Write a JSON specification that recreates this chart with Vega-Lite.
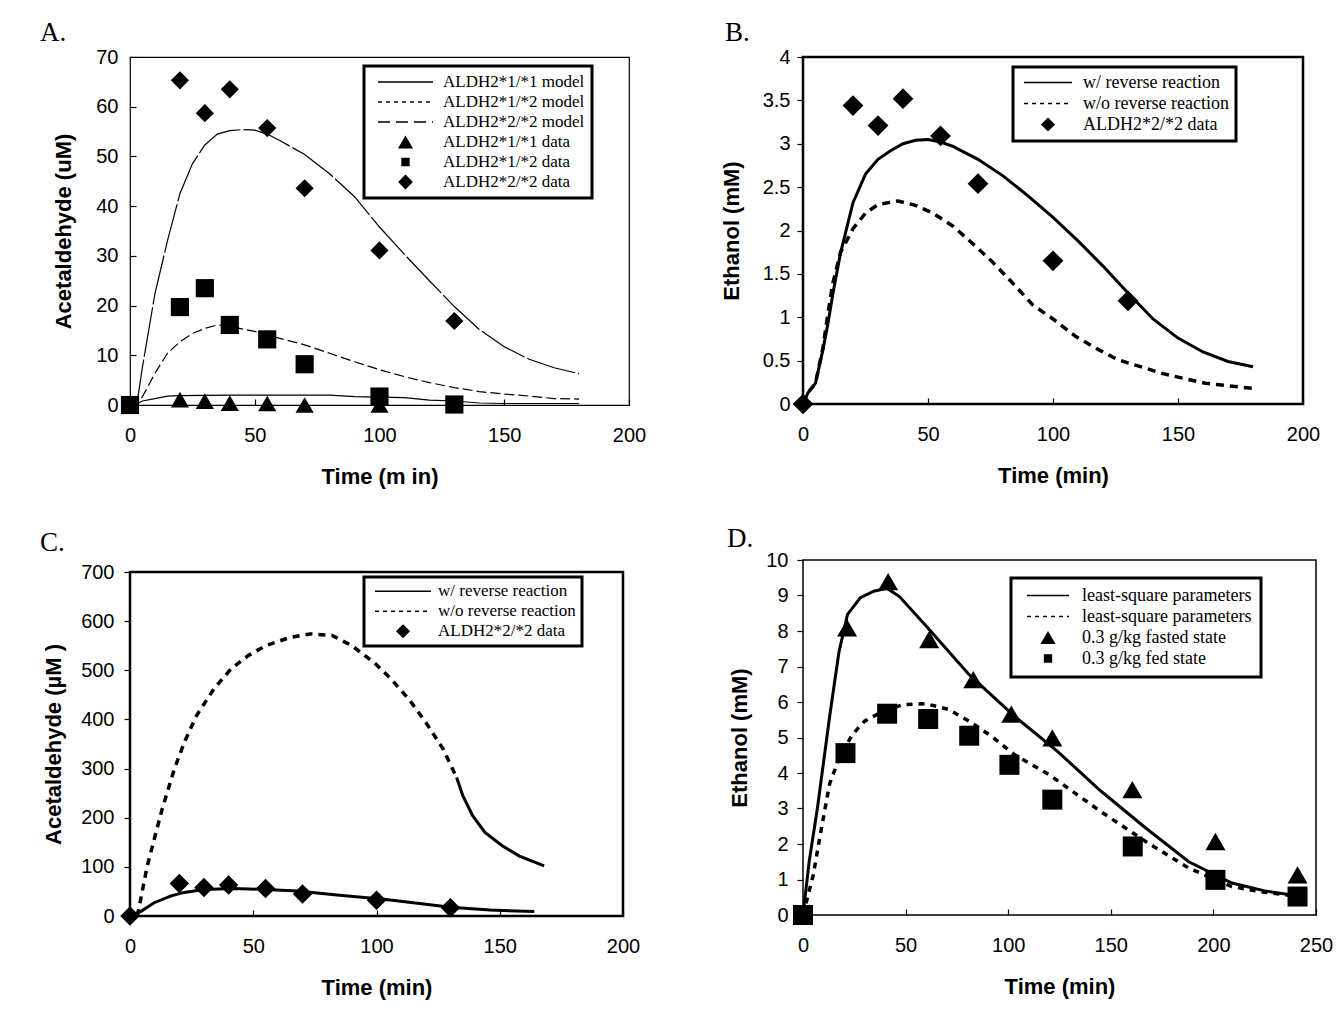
{
  "$schema": "https://vega.github.io/schema/vega-lite/v6.json",
  "background": "white",
  "padding": {"left": 38, "top": 17, "right": 5, "bottom": 5},
  "config": {
    "font": "Liberation Sans",
    "axis": {"grid": false, "domain": false, "ticks": true, "tickColor": "black", "tickWidth": 1.2, "labelFont": "Liberation Sans", "labelFontSize": 20, "labelColor": "black", "labelFlush": false, "labelOverlap": false, "titleFont": "Liberation Sans", "titleFontSize": 22, "titleFontWeight": "bold", "titleColor": "black"},
    "title": {"font": "Liberation Serif", "fontSize": 27, "fontWeight": "normal", "color": "black", "anchor": "start", "frame": "group"},
    "legend": {"labelFont": "Liberation Serif", "labelFontSize": 17, "labelColor": "black", "labelBaseline": "middle", "labelLimit": 400, "fillColor": "white", "strokeColor": "black", "strokeWidth": 3, "orient": "none", "rowPadding": 2, "symbolOpacity": 1}
  },
  "resolve": {"scale": {"shape": "independent", "size": "independent", "strokeDash": "independent", "strokeWidth": "independent", "stroke": "independent", "x": "independent", "y": "independent"}, "legend": {"shape": "independent", "size": "independent", "strokeDash": "independent", "strokeWidth": "independent", "stroke": "independent"}},
  "spacing": 71,
  "hconcat": [
    {
      "spacing": 39,
      "resolve": {"scale": {"shape": "independent", "size": "independent", "strokeDash": "independent", "strokeWidth": "independent", "stroke": "independent", "x": "independent", "y": "independent"}, "legend": {"shape": "independent", "size": "independent", "strokeDash": "independent", "strokeWidth": "independent", "stroke": "independent"}},
      "vconcat": [
        {
          "width": 499, "height": 348,
          "title": {"text": "A.", "dx": -90, "offset": 0},
          "view": {"stroke": "black", "strokeWidth": 1.2},
          "encoding": {
            "x": {"field": "time", "type": "quantitative", "scale": {"domain": [0, 200]}, "axis": {"title": "Time (m in)", "values": [0, 50, 100, 150, 200], "format": "d", "tickSize": -6, "labelPadding": 26, "titleY": 61}},
            "y": {"field": "conc", "type": "quantitative", "scale": {"domain": [0, 70]}, "axis": {"title": "Acetaldehyde (uM)", "values": [0, 10, 20, 30, 40, 50, 60, 70], "format": "d", "tickSize": -6, "labelPadding": 18, "titleX": -55}}
          },
          "layer": [
            {"data": {"name": "A_data"}, "mark": {"type": "point", "filled": true, "color": "black", "opacity": 0},
             "encoding": {
               "shape": {"field": "series", "type": "nominal", "scale": {"domain": ["ALDH2*1/*1 model", "ALDH2*1/*2 model", "ALDH2*2/*2 model", "ALDH2*1/*1 data", "ALDH2*1/*2 data", "ALDH2*2/*2 data"], "range": ["stroke", "stroke", "stroke", "triangle-up", "square", "diamond"]},
                 "legend": {"title": null, "legendX": 234, "legendY": 9, "padding": 7, "clipHeight": 18, "symbolOffset": 6, "labelOffset": 9, "symbolOpacity": 1}},
               "size": {"field": "series", "type": "nominal", "scale": {"type": "ordinal", "domain": ["ALDH2*1/*1 model", "ALDH2*1/*2 model", "ALDH2*2/*2 model", "ALDH2*1/*1 data", "ALDH2*1/*2 data", "ALDH2*2/*2 data"], "range": [3025, 3025, 3025, 230, 70, 220]},
                 "legend": {"title": null, "legendX": 234, "legendY": 9, "padding": 7, "clipHeight": 18, "symbolOffset": 6, "labelOffset": 9, "symbolOpacity": 1}},
               "strokeDash": {"field": "series", "type": "nominal", "scale": {"domain": ["ALDH2*1/*1 model", "ALDH2*1/*2 model", "ALDH2*2/*2 model", "ALDH2*1/*1 data", "ALDH2*1/*2 data", "ALDH2*2/*2 data"], "range": [[1, 0], [4, 4], [12, 6], [1, 0], [1, 0], [1, 0]]},
                 "legend": {"title": null, "legendX": 234, "legendY": 9, "padding": 7, "clipHeight": 18, "symbolOffset": 6, "labelOffset": 9, "symbolOpacity": 1}},
               "strokeWidth": {"field": "series", "type": "nominal", "scale": {"type": "ordinal", "domain": ["ALDH2*1/*1 model", "ALDH2*1/*2 model", "ALDH2*2/*2 model", "ALDH2*1/*1 data", "ALDH2*1/*2 data", "ALDH2*2/*2 data"], "range": [1.5, 1.5, 1.5, 0, 0, 0]},
                 "legend": {"title": null, "legendX": 234, "legendY": 9, "padding": 7, "clipHeight": 18, "symbolOffset": 6, "labelOffset": 9, "symbolOpacity": 1}},
               "stroke": {"field": "series", "type": "nominal", "scale": {"domain": ["ALDH2*1/*1 model", "ALDH2*1/*2 model", "ALDH2*2/*2 model", "ALDH2*1/*1 data", "ALDH2*1/*2 data", "ALDH2*2/*2 data"], "range": ["black", "black", "black", "black", "black", "black"]},
                 "legend": {"title": null, "legendX": 234, "legendY": 9, "padding": 7, "clipHeight": 18, "symbolOffset": 6, "labelOffset": 9, "symbolOpacity": 1}}
             }},
            {"data": {"name": "A_model"}, "transform": [{"filter": "datum.series == 'ALDH2*1/*1 model'"}], "mark": {"type": "line", "color": "black", "strokeWidth": 1.2}},
            {"data": {"name": "A_model"}, "transform": [{"filter": "datum.series == 'ALDH2*1/*2 model'"}], "mark": {"type": "line", "color": "black", "strokeWidth": 1.2, "strokeDash": [10, 4]}},
            {"data": {"name": "A_model"}, "transform": [{"filter": "datum.series == 'ALDH2*2/*2 model'"}], "mark": {"type": "line", "color": "black", "strokeWidth": 1.2, "strokeDash": [50, 3]}},
            {"data": {"name": "A_data"}, "mark": {"type": "point", "filled": true, "color": "black", "opacity": 1, "size": 330},
             "encoding": {"shape": {"field": "series", "type": "nominal", "scale": {"domain": ["ALDH2*1/*1 model", "ALDH2*1/*2 model", "ALDH2*2/*2 model", "ALDH2*1/*1 data", "ALDH2*1/*2 data", "ALDH2*2/*2 data"], "range": ["stroke", "stroke", "stroke", "triangle-up", "square", "diamond"]}}}}
          ]
        },
        {
          "width": 493, "height": 344,
          "title": {"text": "C.", "dx": -90, "offset": 5},
          "view": {"stroke": "black", "strokeWidth": 2.5},
          "encoding": {
            "x": {"field": "time", "type": "quantitative", "scale": {"domain": [0, 200]}, "axis": {"title": "Time (min)", "values": [0, 50, 100, 150, 200], "format": "d", "tickSize": -6, "labelPadding": 26, "titleY": 61}},
            "y": {"field": "conc", "type": "quantitative", "scale": {"domain": [0, 700]}, "axis": {"title": "Acetaldehyde (µM )", "values": [0, 100, 200, 300, 400, 500, 600, 700], "format": "d", "tickSize": 6, "labelPadding": 10, "titleX": -65}}
          },
          "layer": [
            {"data": {"name": "C_data"}, "mark": {"type": "point", "filled": true, "color": "black", "opacity": 0},
             "encoding": {
               "shape": {"field": "series", "type": "nominal", "scale": {"domain": ["w/ reverse reaction", "w/o reverse reaction", "ALDH2*2/*2 data"], "range": ["stroke", "stroke", "diamond"]},
                 "legend": {"title": null, "legendX": 234, "legendY": 5, "padding": 6, "clipHeight": 16.5, "symbolOffset": 4, "labelOffset": 6, "symbolOpacity": 1}},
               "size": {"field": "series", "type": "nominal", "scale": {"type": "ordinal", "domain": ["w/ reverse reaction", "w/o reverse reaction", "ALDH2*2/*2 data"], "range": [3136, 3136, 200]},
                 "legend": {"title": null, "legendX": 234, "legendY": 5, "padding": 6, "clipHeight": 16.5, "symbolOffset": 4, "labelOffset": 6, "symbolOpacity": 1}},
               "strokeDash": {"field": "series", "type": "nominal", "scale": {"domain": ["w/ reverse reaction", "w/o reverse reaction", "ALDH2*2/*2 data"], "range": [[1, 0], [4, 4], [1, 0]]},
                 "legend": {"title": null, "legendX": 234, "legendY": 5, "padding": 6, "clipHeight": 16.5, "symbolOffset": 4, "labelOffset": 6, "symbolOpacity": 1}},
               "strokeWidth": {"field": "series", "type": "nominal", "scale": {"type": "ordinal", "domain": ["w/ reverse reaction", "w/o reverse reaction", "ALDH2*2/*2 data"], "range": [1.5, 1.5, 0]},
                 "legend": {"title": null, "legendX": 234, "legendY": 5, "padding": 6, "clipHeight": 16.5, "symbolOffset": 4, "labelOffset": 6, "symbolOpacity": 1}},
               "stroke": {"field": "series", "type": "nominal", "scale": {"domain": ["w/ reverse reaction", "w/o reverse reaction", "ALDH2*2/*2 data"], "range": ["black", "black", "black"]},
                 "legend": {"title": null, "legendX": 234, "legendY": 5, "padding": 6, "clipHeight": 16.5, "symbolOffset": 4, "labelOffset": 6, "symbolOpacity": 1}}
             }},
            {"data": {"name": "C_model"}, "transform": [{"filter": "datum.series == 'w/ reverse reaction'"}], "mark": {"type": "line", "color": "black", "strokeWidth": 3}},
            {"data": {"name": "C_model"}, "transform": [{"filter": "datum.series == 'w/o reverse reaction' && datum.time <= 133"}], "mark": {"type": "line", "color": "black", "strokeWidth": 3.5, "strokeDash": [7, 6]}},
            {"data": {"name": "C_model"}, "transform": [{"filter": "datum.series == 'w/o reverse reaction' && datum.time >= 132"}], "mark": {"type": "line", "color": "black", "strokeWidth": 3}},
            {"data": {"name": "C_data"}, "mark": {"type": "point", "filled": true, "color": "black", "opacity": 1, "size": 380},
             "encoding": {"shape": {"field": "series", "type": "nominal", "scale": {"domain": ["w/ reverse reaction", "w/o reverse reaction", "ALDH2*2/*2 data"], "range": ["stroke", "stroke", "diamond"]}}}}
          ]
        }
      ]
    },
    {
      "spacing": 36,
      "resolve": {"scale": {"shape": "independent", "size": "independent", "strokeDash": "independent", "strokeWidth": "independent", "stroke": "independent", "x": "independent", "y": "independent"}, "legend": {"shape": "independent", "size": "independent", "strokeDash": "independent", "strokeWidth": "independent", "stroke": "independent"}},
      "vconcat": [
        {
          "width": 500, "height": 347,
          "title": {"text": "B.", "dx": -78, "offset": 0},
          "view": {"stroke": "black", "strokeWidth": 2.5},
          "encoding": {
            "x": {"field": "time", "type": "quantitative", "scale": {"domain": [0, 200]}, "axis": {"title": "Time (min)", "values": [0, 50, 100, 150, 200], "format": "d", "tickSize": -6, "labelPadding": 26, "titleY": 61}},
            "y": {"field": "conc", "type": "quantitative", "scale": {"domain": [0, 4]}, "axis": {"title": "Ethanol (mM)", "values": [0, 0.5, 1, 1.5, 2, 2.5, 3, 3.5, 4], "format": "~g", "tickSize": 6, "labelPadding": 7, "titleX": -60}}
          },
          "layer": [
            {"data": {"name": "B_data"}, "mark": {"type": "point", "filled": true, "color": "black", "opacity": 0},
             "encoding": {
               "shape": {"field": "series", "type": "nominal", "scale": {"domain": ["w/ reverse reaction", "w/o reverse reaction", "ALDH2*2/*2 data"], "range": ["stroke", "stroke", "diamond"]},
                 "legend": {"title": null, "legendX": 210, "legendY": 10, "padding": 7, "clipHeight": 17, "symbolOffset": 3, "labelOffset": 10, "labelFontSize": 18, "symbolOpacity": 1}},
               "size": {"field": "series", "type": "nominal", "scale": {"type": "ordinal", "domain": ["w/ reverse reaction", "w/o reverse reaction", "ALDH2*2/*2 data"], "range": [2304, 2304, 200]},
                 "legend": {"title": null, "legendX": 210, "legendY": 10, "padding": 7, "clipHeight": 17, "symbolOffset": 3, "labelOffset": 10, "labelFontSize": 18, "symbolOpacity": 1}},
               "strokeDash": {"field": "series", "type": "nominal", "scale": {"domain": ["w/ reverse reaction", "w/o reverse reaction", "ALDH2*2/*2 data"], "range": [[1, 0], [4, 4], [1, 0]]},
                 "legend": {"title": null, "legendX": 210, "legendY": 10, "padding": 7, "clipHeight": 17, "symbolOffset": 3, "labelOffset": 10, "labelFontSize": 18, "symbolOpacity": 1}},
               "strokeWidth": {"field": "series", "type": "nominal", "scale": {"type": "ordinal", "domain": ["w/ reverse reaction", "w/o reverse reaction", "ALDH2*2/*2 data"], "range": [1.5, 1.5, 0]},
                 "legend": {"title": null, "legendX": 210, "legendY": 10, "padding": 7, "clipHeight": 17, "symbolOffset": 3, "labelOffset": 10, "labelFontSize": 18, "symbolOpacity": 1}},
               "stroke": {"field": "series", "type": "nominal", "scale": {"domain": ["w/ reverse reaction", "w/o reverse reaction", "ALDH2*2/*2 data"], "range": ["black", "black", "black"]},
                 "legend": {"title": null, "legendX": 210, "legendY": 10, "padding": 7, "clipHeight": 17, "symbolOffset": 3, "labelOffset": 10, "labelFontSize": 18, "symbolOpacity": 1}}
             }},
            {"data": {"name": "B_model"}, "transform": [{"filter": "datum.series == 'w/ reverse reaction'"}], "mark": {"type": "line", "color": "black", "strokeWidth": 3}},
            {"data": {"name": "B_model"}, "transform": [{"filter": "datum.series == 'w/o reverse reaction'"}], "mark": {"type": "line", "color": "black", "strokeWidth": 3.5, "strokeDash": [8, 6]}},
            {"data": {"name": "B_data"}, "mark": {"type": "point", "filled": true, "color": "black", "opacity": 1, "size": 430},
             "encoding": {"shape": {"field": "series", "type": "nominal", "scale": {"domain": ["w/ reverse reaction", "w/o reverse reaction", "ALDH2*2/*2 data"], "range": ["stroke", "stroke", "diamond"]}}}}
          ]
        },
        {
          "width": 513, "height": 355,
          "title": {"text": "D.", "dx": -76, "offset": -3},
          "view": {"stroke": "black", "strokeWidth": 1.5},
          "encoding": {
            "x": {"field": "time", "type": "quantitative", "scale": {"domain": [0, 250]}, "axis": {"title": "Time (min)", "values": [0, 50, 100, 150, 200, 250], "format": "d", "tickSize": -6, "labelPadding": 26, "titleY": 61}},
            "y": {"field": "conc", "type": "quantitative", "scale": {"domain": [0, 10]}, "axis": {"title": "Ethanol (mM)", "values": [0, 1, 2, 3, 4, 5, 6, 7, 8, 9, 10], "format": "d", "tickSize": 6, "labelPadding": 9, "titleX": -52}}
          },
          "layer": [
            {"data": {"name": "D_data"}, "mark": {"type": "point", "filled": true, "color": "black", "opacity": 0},
             "encoding": {
               "shape": {"field": "series", "type": "nominal", "scale": {"domain": ["fasted model", "fed model", "0.3 g/kg fasted state", "0.3 g/kg fed state"], "range": ["stroke", "stroke", "triangle-up", "square"]},
                 "legend": {"title": null, "legendX": 208, "legendY": 18, "padding": 9, "clipHeight": 17, "symbolOffset": 6, "labelOffset": 12, "labelFontSize": 18, "labelLimit": 400, "symbolOpacity": 1, "labelExpr": "indexof(datum.value, 'model') >= 0 ? 'least-square parameters' : datum.value"}},
               "size": {"field": "series", "type": "nominal", "scale": {"type": "ordinal", "domain": ["fasted model", "fed model", "0.3 g/kg fasted state", "0.3 g/kg fed state"], "range": [1764, 1764, 230, 70]},
                 "legend": {"title": null, "legendX": 208, "legendY": 18, "padding": 9, "clipHeight": 17, "symbolOffset": 6, "labelOffset": 12, "labelFontSize": 18, "labelLimit": 400, "symbolOpacity": 1, "labelExpr": "indexof(datum.value, 'model') >= 0 ? 'least-square parameters' : datum.value"}},
               "strokeDash": {"field": "series", "type": "nominal", "scale": {"domain": ["fasted model", "fed model", "0.3 g/kg fasted state", "0.3 g/kg fed state"], "range": [[1, 0], [4, 4], [1, 0], [1, 0]]},
                 "legend": {"title": null, "legendX": 208, "legendY": 18, "padding": 9, "clipHeight": 17, "symbolOffset": 6, "labelOffset": 12, "labelFontSize": 18, "labelLimit": 400, "symbolOpacity": 1, "labelExpr": "indexof(datum.value, 'model') >= 0 ? 'least-square parameters' : datum.value"}},
               "strokeWidth": {"field": "series", "type": "nominal", "scale": {"type": "ordinal", "domain": ["fasted model", "fed model", "0.3 g/kg fasted state", "0.3 g/kg fed state"], "range": [1.5, 1.5, 0, 0]},
                 "legend": {"title": null, "legendX": 208, "legendY": 18, "padding": 9, "clipHeight": 17, "symbolOffset": 6, "labelOffset": 12, "labelFontSize": 18, "labelLimit": 400, "symbolOpacity": 1, "labelExpr": "indexof(datum.value, 'model') >= 0 ? 'least-square parameters' : datum.value"}},
               "stroke": {"field": "series", "type": "nominal", "scale": {"domain": ["fasted model", "fed model", "0.3 g/kg fasted state", "0.3 g/kg fed state"], "range": ["black", "black", "black", "black"]},
                 "legend": {"title": null, "legendX": 208, "legendY": 18, "padding": 9, "clipHeight": 17, "symbolOffset": 6, "labelOffset": 12, "labelFontSize": 18, "labelLimit": 400, "symbolOpacity": 1, "labelExpr": "indexof(datum.value, 'model') >= 0 ? 'least-square parameters' : datum.value"}}
             }},
            {"data": {"name": "D_model"}, "transform": [{"filter": "datum.series == 'fasted model'"}], "mark": {"type": "line", "color": "black", "strokeWidth": 3}},
            {"data": {"name": "D_model"}, "transform": [{"filter": "datum.series == 'fed model'"}], "mark": {"type": "line", "color": "black", "strokeWidth": 3.5, "strokeDash": [6, 6]}},
            {"data": {"name": "D_data"}, "mark": {"type": "point", "filled": true, "color": "black", "opacity": 1, "size": 400},
             "encoding": {"shape": {"field": "series", "type": "nominal", "scale": {"domain": ["fasted model", "fed model", "0.3 g/kg fasted state", "0.3 g/kg fed state"], "range": ["stroke", "stroke", "triangle-up", "square"]}}}}
          ]
        }
      ]
    }
  ],
  "datasets": {
    "A_model": [
      {"series": "ALDH2*2/*2 model", "time": 0, "conc": 0}, {"series": "ALDH2*2/*2 model", "time": 3, "conc": 1}, {"series": "ALDH2*2/*2 model", "time": 5, "conc": 7.7}, {"series": "ALDH2*2/*2 model", "time": 10, "conc": 22.4}, {"series": "ALDH2*2/*2 model", "time": 15, "conc": 33}, {"series": "ALDH2*2/*2 model", "time": 20, "conc": 42.5}, {"series": "ALDH2*2/*2 model", "time": 25, "conc": 48.5}, {"series": "ALDH2*2/*2 model", "time": 30, "conc": 52.3}, {"series": "ALDH2*2/*2 model", "time": 35, "conc": 54.5}, {"series": "ALDH2*2/*2 model", "time": 40, "conc": 55.2}, {"series": "ALDH2*2/*2 model", "time": 45, "conc": 55.4}, {"series": "ALDH2*2/*2 model", "time": 50, "conc": 55.3}, {"series": "ALDH2*2/*2 model", "time": 55, "conc": 54.5}, {"series": "ALDH2*2/*2 model", "time": 60, "conc": 53.2}, {"series": "ALDH2*2/*2 model", "time": 70, "conc": 50.4}, {"series": "ALDH2*2/*2 model", "time": 80, "conc": 46.5}, {"series": "ALDH2*2/*2 model", "time": 90, "conc": 41.9}, {"series": "ALDH2*2/*2 model", "time": 100, "conc": 35.8}, {"series": "ALDH2*2/*2 model", "time": 110, "conc": 30.3}, {"series": "ALDH2*2/*2 model", "time": 120, "conc": 25}, {"series": "ALDH2*2/*2 model", "time": 130, "conc": 19.8}, {"series": "ALDH2*2/*2 model", "time": 140, "conc": 15.2}, {"series": "ALDH2*2/*2 model", "time": 150, "conc": 11.7}, {"series": "ALDH2*2/*2 model", "time": 160, "conc": 9.2}, {"series": "ALDH2*2/*2 model", "time": 170, "conc": 7.5}, {"series": "ALDH2*2/*2 model", "time": 180, "conc": 6.3},
      {"series": "ALDH2*1/*2 model", "time": 0, "conc": 0}, {"series": "ALDH2*1/*2 model", "time": 3, "conc": 0.5}, {"series": "ALDH2*1/*2 model", "time": 5, "conc": 1.7}, {"series": "ALDH2*1/*2 model", "time": 10, "conc": 6.4}, {"series": "ALDH2*1/*2 model", "time": 15, "conc": 10.4}, {"series": "ALDH2*1/*2 model", "time": 20, "conc": 12.7}, {"series": "ALDH2*1/*2 model", "time": 25, "conc": 14.4}, {"series": "ALDH2*1/*2 model", "time": 30, "conc": 15.4}, {"series": "ALDH2*1/*2 model", "time": 35, "conc": 16.1}, {"series": "ALDH2*1/*2 model", "time": 40, "conc": 15.8}, {"series": "ALDH2*1/*2 model", "time": 50, "conc": 14.8}, {"series": "ALDH2*1/*2 model", "time": 60, "conc": 13.4}, {"series": "ALDH2*1/*2 model", "time": 70, "conc": 12.1}, {"series": "ALDH2*1/*2 model", "time": 80, "conc": 10.4}, {"series": "ALDH2*1/*2 model", "time": 90, "conc": 8.7}, {"series": "ALDH2*1/*2 model", "time": 100, "conc": 7.1}, {"series": "ALDH2*1/*2 model", "time": 110, "conc": 5.7}, {"series": "ALDH2*1/*2 model", "time": 120, "conc": 4.5}, {"series": "ALDH2*1/*2 model", "time": 130, "conc": 3.5}, {"series": "ALDH2*1/*2 model", "time": 140, "conc": 2.7}, {"series": "ALDH2*1/*2 model", "time": 150, "conc": 2.2}, {"series": "ALDH2*1/*2 model", "time": 160, "conc": 1.8}, {"series": "ALDH2*1/*2 model", "time": 170, "conc": 1.3}, {"series": "ALDH2*1/*2 model", "time": 180, "conc": 1.2},
      {"series": "ALDH2*1/*1 model", "time": 0, "conc": 0}, {"series": "ALDH2*1/*1 model", "time": 3, "conc": 0.3}, {"series": "ALDH2*1/*1 model", "time": 5, "conc": 0.8}, {"series": "ALDH2*1/*1 model", "time": 10, "conc": 1.3}, {"series": "ALDH2*1/*1 model", "time": 15, "conc": 1.8}, {"series": "ALDH2*1/*1 model", "time": 20, "conc": 1.9}, {"series": "ALDH2*1/*1 model", "time": 40, "conc": 2.0}, {"series": "ALDH2*1/*1 model", "time": 60, "conc": 2.0}, {"series": "ALDH2*1/*1 model", "time": 80, "conc": 2.0}, {"series": "ALDH2*1/*1 model", "time": 90, "conc": 1.7}, {"series": "ALDH2*1/*1 model", "time": 100, "conc": 1.6}, {"series": "ALDH2*1/*1 model", "time": 110, "conc": 1.5}, {"series": "ALDH2*1/*1 model", "time": 120, "conc": 1.0}, {"series": "ALDH2*1/*1 model", "time": 130, "conc": 0.8}, {"series": "ALDH2*1/*1 model", "time": 140, "conc": 0.4}, {"series": "ALDH2*1/*1 model", "time": 150, "conc": 0.3}, {"series": "ALDH2*1/*1 model", "time": 180, "conc": 0.3}
    ],
    "A_data": [
      {"series": "ALDH2*1/*1 data", "time": 20, "conc": 1.1}, {"series": "ALDH2*1/*1 data", "time": 30, "conc": 0.8}, {"series": "ALDH2*1/*1 data", "time": 40, "conc": 0.4}, {"series": "ALDH2*1/*1 data", "time": 55, "conc": 0.3}, {"series": "ALDH2*1/*1 data", "time": 70, "conc": 0}, {"series": "ALDH2*1/*1 data", "time": 100, "conc": 0},
      {"series": "ALDH2*1/*2 data", "time": 0, "conc": 0}, {"series": "ALDH2*1/*2 data", "time": 20, "conc": 19.7}, {"series": "ALDH2*1/*2 data", "time": 30, "conc": 23.5}, {"series": "ALDH2*1/*2 data", "time": 40, "conc": 16.1}, {"series": "ALDH2*1/*2 data", "time": 55, "conc": 13.2}, {"series": "ALDH2*1/*2 data", "time": 70, "conc": 8.2}, {"series": "ALDH2*1/*2 data", "time": 100, "conc": 1.7}, {"series": "ALDH2*1/*2 data", "time": 130, "conc": 0.1},
      {"series": "ALDH2*2/*2 data", "time": 20, "conc": 65.3}, {"series": "ALDH2*2/*2 data", "time": 30, "conc": 58.7}, {"series": "ALDH2*2/*2 data", "time": 40, "conc": 63.5}, {"series": "ALDH2*2/*2 data", "time": 55, "conc": 55.7}, {"series": "ALDH2*2/*2 data", "time": 70, "conc": 43.6}, {"series": "ALDH2*2/*2 data", "time": 100, "conc": 31.1}, {"series": "ALDH2*2/*2 data", "time": 130, "conc": 16.9}
    ],
    "B_model": [
      {"series": "w/ reverse reaction", "time": 0, "conc": 0}, {"series": "w/ reverse reaction", "time": 2, "conc": 0.13}, {"series": "w/ reverse reaction", "time": 5, "conc": 0.24}, {"series": "w/ reverse reaction", "time": 8, "conc": 0.63}, {"series": "w/ reverse reaction", "time": 10, "conc": 0.93}, {"series": "w/ reverse reaction", "time": 12, "conc": 1.28}, {"series": "w/ reverse reaction", "time": 15, "conc": 1.74}, {"series": "w/ reverse reaction", "time": 20, "conc": 2.32}, {"series": "w/ reverse reaction", "time": 25, "conc": 2.65}, {"series": "w/ reverse reaction", "time": 30, "conc": 2.82}, {"series": "w/ reverse reaction", "time": 35, "conc": 2.92}, {"series": "w/ reverse reaction", "time": 40, "conc": 3.0}, {"series": "w/ reverse reaction", "time": 45, "conc": 3.04}, {"series": "w/ reverse reaction", "time": 50, "conc": 3.05}, {"series": "w/ reverse reaction", "time": 55, "conc": 3.02}, {"series": "w/ reverse reaction", "time": 60, "conc": 2.97}, {"series": "w/ reverse reaction", "time": 70, "conc": 2.82}, {"series": "w/ reverse reaction", "time": 80, "conc": 2.63}, {"series": "w/ reverse reaction", "time": 90, "conc": 2.4}, {"series": "w/ reverse reaction", "time": 100, "conc": 2.15}, {"series": "w/ reverse reaction", "time": 110, "conc": 1.88}, {"series": "w/ reverse reaction", "time": 120, "conc": 1.59}, {"series": "w/ reverse reaction", "time": 130, "conc": 1.28}, {"series": "w/ reverse reaction", "time": 140, "conc": 0.98}, {"series": "w/ reverse reaction", "time": 150, "conc": 0.76}, {"series": "w/ reverse reaction", "time": 160, "conc": 0.6}, {"series": "w/ reverse reaction", "time": 170, "conc": 0.49}, {"series": "w/ reverse reaction", "time": 180, "conc": 0.43},
      {"series": "w/o reverse reaction", "time": 0, "conc": 0}, {"series": "w/o reverse reaction", "time": 2, "conc": 0.13}, {"series": "w/o reverse reaction", "time": 5, "conc": 0.24}, {"series": "w/o reverse reaction", "time": 8, "conc": 0.65}, {"series": "w/o reverse reaction", "time": 10, "conc": 1.05}, {"series": "w/o reverse reaction", "time": 12, "conc": 1.4}, {"series": "w/o reverse reaction", "time": 15, "conc": 1.75}, {"series": "w/o reverse reaction", "time": 20, "conc": 2.02}, {"series": "w/o reverse reaction", "time": 25, "conc": 2.2}, {"series": "w/o reverse reaction", "time": 30, "conc": 2.3}, {"series": "w/o reverse reaction", "time": 38, "conc": 2.34}, {"series": "w/o reverse reaction", "time": 45, "conc": 2.29}, {"series": "w/o reverse reaction", "time": 52, "conc": 2.2}, {"series": "w/o reverse reaction", "time": 60, "conc": 2.05}, {"series": "w/o reverse reaction", "time": 69, "conc": 1.82}, {"series": "w/o reverse reaction", "time": 76, "conc": 1.63}, {"series": "w/o reverse reaction", "time": 83, "conc": 1.42}, {"series": "w/o reverse reaction", "time": 92, "conc": 1.14}, {"series": "w/o reverse reaction", "time": 100, "conc": 0.98}, {"series": "w/o reverse reaction", "time": 109, "conc": 0.78}, {"series": "w/o reverse reaction", "time": 118, "conc": 0.63}, {"series": "w/o reverse reaction", "time": 126, "conc": 0.51}, {"series": "w/o reverse reaction", "time": 135, "conc": 0.43}, {"series": "w/o reverse reaction", "time": 144, "conc": 0.35}, {"series": "w/o reverse reaction", "time": 153, "conc": 0.29}, {"series": "w/o reverse reaction", "time": 161, "conc": 0.24}, {"series": "w/o reverse reaction", "time": 170, "conc": 0.21}, {"series": "w/o reverse reaction", "time": 180, "conc": 0.18}
    ],
    "B_data": [
      {"series": "ALDH2*2/*2 data", "time": 0, "conc": 0}, {"series": "ALDH2*2/*2 data", "time": 20, "conc": 3.44}, {"series": "ALDH2*2/*2 data", "time": 30, "conc": 3.21}, {"series": "ALDH2*2/*2 data", "time": 40, "conc": 3.52}, {"series": "ALDH2*2/*2 data", "time": 55, "conc": 3.09}, {"series": "ALDH2*2/*2 data", "time": 70, "conc": 2.54}, {"series": "ALDH2*2/*2 data", "time": 100, "conc": 1.65}, {"series": "ALDH2*2/*2 data", "time": 130, "conc": 1.19}
    ],
    "C_model": [
      {"series": "w/ reverse reaction", "time": 0, "conc": 0}, {"series": "w/ reverse reaction", "time": 4.6, "conc": 10}, {"series": "w/ reverse reaction", "time": 9.8, "conc": 27}, {"series": "w/ reverse reaction", "time": 16.7, "conc": 41}, {"series": "w/ reverse reaction", "time": 22, "conc": 48}, {"series": "w/ reverse reaction", "time": 30, "conc": 54}, {"series": "w/ reverse reaction", "time": 42, "conc": 56}, {"series": "w/ reverse reaction", "time": 55, "conc": 54}, {"series": "w/ reverse reaction", "time": 68, "conc": 51}, {"series": "w/ reverse reaction", "time": 85, "conc": 42}, {"series": "w/ reverse reaction", "time": 103, "conc": 34}, {"series": "w/ reverse reaction", "time": 120, "conc": 24}, {"series": "w/ reverse reaction", "time": 130, "conc": 18}, {"series": "w/ reverse reaction", "time": 146, "conc": 12}, {"series": "w/ reverse reaction", "time": 164, "conc": 9},
      {"series": "w/o reverse reaction", "time": 3, "conc": 0}, {"series": "w/o reverse reaction", "time": 7, "conc": 102}, {"series": "w/o reverse reaction", "time": 13, "conc": 217}, {"series": "w/o reverse reaction", "time": 18, "conc": 299}, {"series": "w/o reverse reaction", "time": 22, "conc": 353}, {"series": "w/o reverse reaction", "time": 27, "conc": 408}, {"series": "w/o reverse reaction", "time": 34, "conc": 462}, {"series": "w/o reverse reaction", "time": 41, "conc": 503}, {"series": "w/o reverse reaction", "time": 48, "conc": 530}, {"series": "w/o reverse reaction", "time": 55, "conc": 550}, {"series": "w/o reverse reaction", "time": 65, "conc": 567}, {"series": "w/o reverse reaction", "time": 73, "conc": 574}, {"series": "w/o reverse reaction", "time": 82, "conc": 571}, {"series": "w/o reverse reaction", "time": 90, "conc": 550}, {"series": "w/o reverse reaction", "time": 99, "conc": 516}, {"series": "w/o reverse reaction", "time": 106, "conc": 482}, {"series": "w/o reverse reaction", "time": 113, "conc": 442}, {"series": "w/o reverse reaction", "time": 120, "conc": 394}, {"series": "w/o reverse reaction", "time": 127, "conc": 340}, {"series": "w/o reverse reaction", "time": 132.5, "conc": 282}, {"series": "w/o reverse reaction", "time": 135, "conc": 245}, {"series": "w/o reverse reaction", "time": 139, "conc": 204}, {"series": "w/o reverse reaction", "time": 144, "conc": 170}, {"series": "w/o reverse reaction", "time": 151, "conc": 143}, {"series": "w/o reverse reaction", "time": 158, "conc": 122}, {"series": "w/o reverse reaction", "time": 168, "conc": 102}
    ],
    "C_data": [
      {"series": "ALDH2*2/*2 data", "time": 0, "conc": 0}, {"series": "ALDH2*2/*2 data", "time": 20, "conc": 66}, {"series": "ALDH2*2/*2 data", "time": 30, "conc": 58}, {"series": "ALDH2*2/*2 data", "time": 40, "conc": 63}, {"series": "ALDH2*2/*2 data", "time": 55, "conc": 56}, {"series": "ALDH2*2/*2 data", "time": 70, "conc": 45}, {"series": "ALDH2*2/*2 data", "time": 100, "conc": 32}, {"series": "ALDH2*2/*2 data", "time": 130, "conc": 17}
    ],
    "D_model": [
      {"series": "fasted model", "time": 0, "conc": 0}, {"series": "fasted model", "time": 3, "conc": 1.5}, {"series": "fasted model", "time": 7, "conc": 3.0}, {"series": "fasted model", "time": 13, "conc": 5.6}, {"series": "fasted model", "time": 17.5, "conc": 7.4}, {"series": "fasted model", "time": 21.7, "conc": 8.47}, {"series": "fasted model", "time": 28, "conc": 8.94}, {"series": "fasted model", "time": 34.5, "conc": 9.12}, {"series": "fasted model", "time": 41, "conc": 9.2}, {"series": "fasted model", "time": 47, "conc": 8.97}, {"series": "fasted model", "time": 60, "conc": 8.14}, {"series": "fasted model", "time": 81, "conc": 6.77}, {"series": "fasted model", "time": 103, "conc": 5.6}, {"series": "fasted model", "time": 124, "conc": 4.61}, {"series": "fasted model", "time": 145, "conc": 3.5}, {"series": "fasted model", "time": 167, "conc": 2.45}, {"series": "fasted model", "time": 188, "conc": 1.5}, {"series": "fasted model", "time": 209, "conc": 0.9}, {"series": "fasted model", "time": 225, "conc": 0.68}, {"series": "fasted model", "time": 240, "conc": 0.55},
      {"series": "fed model", "time": 0, "conc": 0}, {"series": "fed model", "time": 5, "conc": 1.13}, {"series": "fed model", "time": 9, "conc": 2.45}, {"series": "fed model", "time": 13, "conc": 3.7}, {"series": "fed model", "time": 17.5, "conc": 4.4}, {"series": "fed model", "time": 24, "conc": 5.08}, {"series": "fed model", "time": 30, "conc": 5.46}, {"series": "fed model", "time": 39, "conc": 5.74}, {"series": "fed model", "time": 49, "conc": 5.93}, {"series": "fed model", "time": 60, "conc": 5.95}, {"series": "fed model", "time": 71, "conc": 5.79}, {"series": "fed model", "time": 81, "conc": 5.46}, {"series": "fed model", "time": 92, "conc": 5.03}, {"series": "fed model", "time": 103, "conc": 4.52}, {"series": "fed model", "time": 120, "conc": 3.95}, {"series": "fed model", "time": 145, "conc": 2.92}, {"series": "fed model", "time": 167, "conc": 2.07}, {"series": "fed model", "time": 188, "conc": 1.32}, {"series": "fed model", "time": 209, "conc": 0.8}, {"series": "fed model", "time": 225, "conc": 0.64}, {"series": "fed model", "time": 239, "conc": 0.54}
    ],
    "D_data": [
      {"series": "0.3 g/kg fasted state", "time": 21.5, "conc": 8.09}, {"series": "0.3 g/kg fasted state", "time": 41.5, "conc": 9.39}, {"series": "0.3 g/kg fasted state", "time": 61.5, "conc": 7.76}, {"series": "0.3 g/kg fasted state", "time": 83, "conc": 6.63}, {"series": "0.3 g/kg fasted state", "time": 101.5, "conc": 5.66}, {"series": "0.3 g/kg fasted state", "time": 121.5, "conc": 4.99}, {"series": "0.3 g/kg fasted state", "time": 160.5, "conc": 3.53}, {"series": "0.3 g/kg fasted state", "time": 201, "conc": 2.07}, {"series": "0.3 g/kg fasted state", "time": 241, "conc": 1.13},
      {"series": "0.3 g/kg fed state", "time": 0, "conc": 0}, {"series": "0.3 g/kg fed state", "time": 20.7, "conc": 4.56}, {"series": "0.3 g/kg fed state", "time": 41, "conc": 5.67}, {"series": "0.3 g/kg fed state", "time": 61, "conc": 5.52}, {"series": "0.3 g/kg fed state", "time": 81, "conc": 5.05}, {"series": "0.3 g/kg fed state", "time": 100.6, "conc": 4.23}, {"series": "0.3 g/kg fed state", "time": 121.5, "conc": 3.25}, {"series": "0.3 g/kg fed state", "time": 160.7, "conc": 1.93}, {"series": "0.3 g/kg fed state", "time": 201, "conc": 0.99}, {"series": "0.3 g/kg fed state", "time": 241, "conc": 0.52}
    ]
  }
}
